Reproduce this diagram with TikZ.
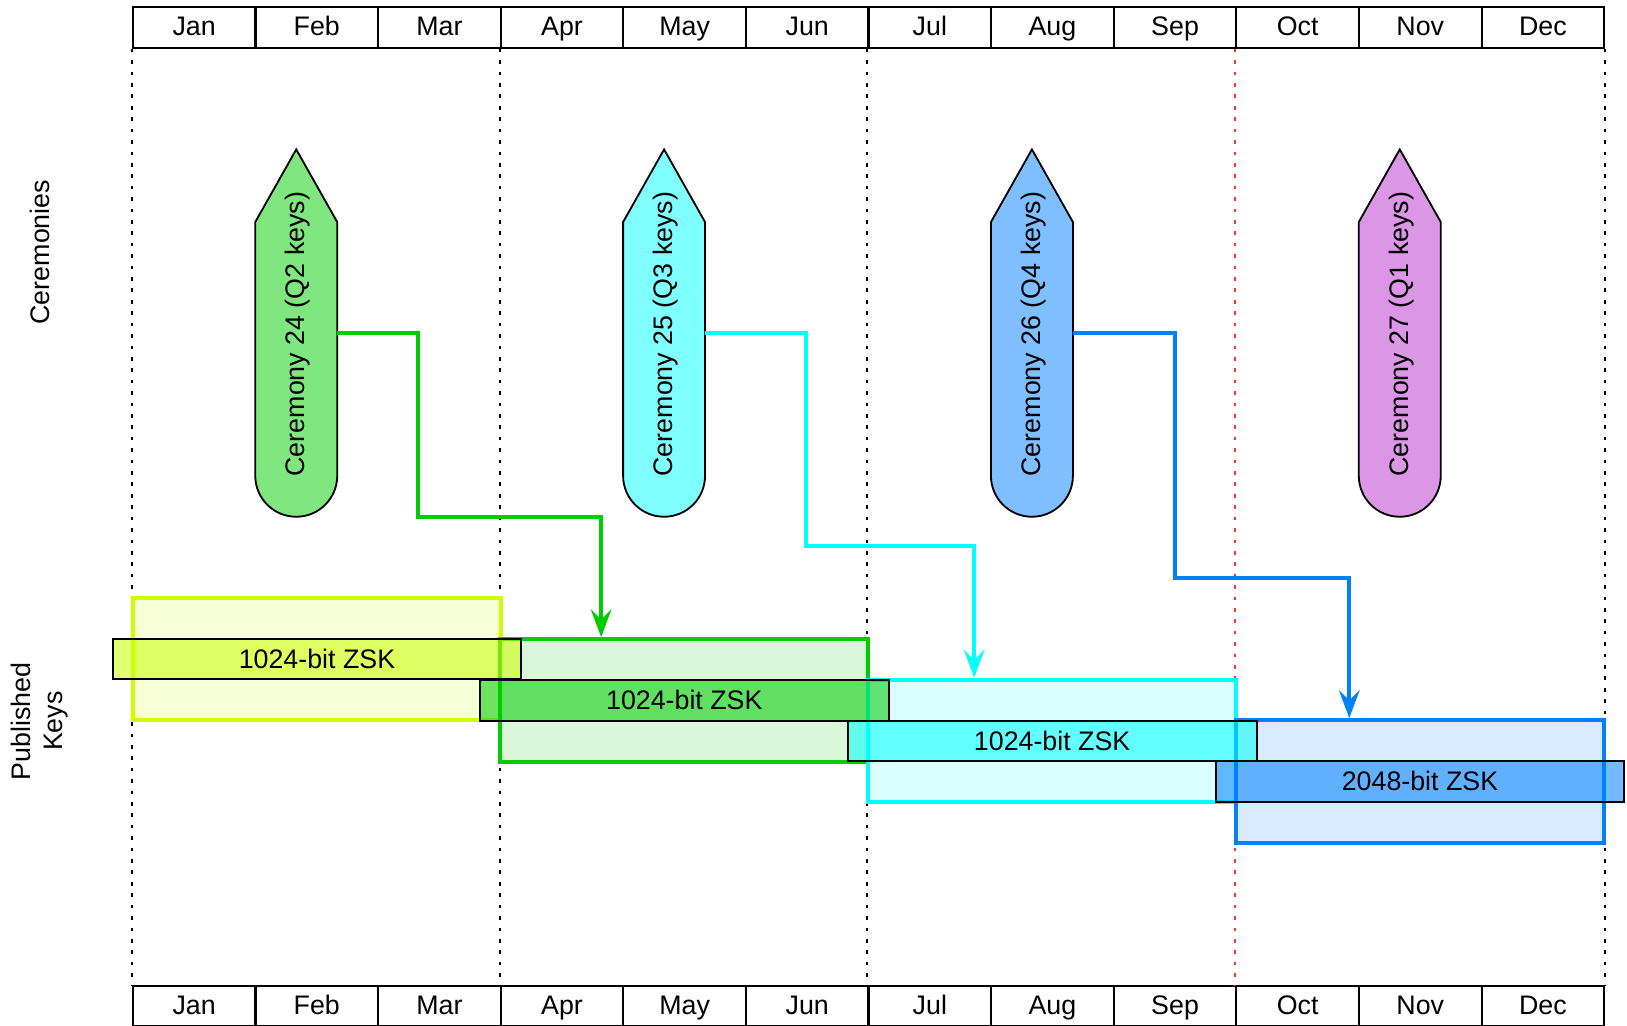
\documentclass[tikz,border=0pt]{standalone}
\usepackage{fontspec}
\setmainfont{Liberation Sans}
\usetikzlibrary{arrows.meta,positioning}
\definecolor{keyyellow}{RGB}{204,255,0}
\definecolor{keygreen}{RGB}{0,204,0}
\definecolor{keycyan}{RGB}{0,255,255}
\definecolor{keyblue}{RGB}{0,127,255}
\definecolor{cerpurple}{RGB}{220,150,230}
\tikzset{
    month/.style={draw,line width=1.2pt,minimum width=2.3633cm,minimum height=0.78cm,inner sep=0pt,
        text height=11pt,text depth=2.1pt},
    guide/.style={line width=1.1pt,dash pattern=on 0.07cm off 0.15cm},
    period/.style={draw=#1,fill=#1!15,line width=2.2pt,minimum width=7.09cm,minimum height=2.36cm,inner sep=0pt},
    zsk/.style={draw=black,fill=#1,fill opacity=0.55,text opacity=1,line width=1.1pt,minimum width=7.88cm,minimum height=0.78cm,inner sep=0pt},
    cershape/.style={draw=black,line width=1pt,line join=miter},
    link/.style={draw=#1,line width=2.1pt,-{Stealth[length=0.54cm,width=0.4cm,inset=0.2cm]}}
}
\begin{document}
\begin{tikzpicture}[x=0.02cm,y=-0.02cm,font=\fontsize{14.7pt}{17.6pt}\selectfont]
    \useasboundingbox (0,0) rectangle (1568,988);
    \clip (0,0) rectangle (1568,988);
    % month bars, top and bottom
    \foreach \m [count=\i from 0] in {Jan,Feb,Mar,Apr,May,Jun,Jul,Aug,Sep,Oct,Nov,Dec}{
        \node[month] (top\i) at ({128+118.17*(\i+0.5)},26.5) {\m};
        \node[month] (bot\i) at ({128+118.17*(\i+0.5)},969.5) {\m};
    }
    % quarter guides
    \foreach \i in {0,3,6}{
        \draw[guide] (top\i.south west) -- (bot\i.north west);
    }
    \draw[guide,red!80] (top9.south west) -- (bot9.north west);
    \draw[guide] (top11.south east) -- (bot11.north east);
    % row labels
    \node[rotate=90] (lblcer) at (38,243) {Ceremonies};
    \node[rotate=90,align=center] (lblkeys) at (38,695) {Published\\Keys};
    % ceremonies
    \foreach \cx/\n/\col/\q in {285.5/24/keygreen!50/Q2, 640/25/keycyan!50/Q3,
                                994.5/26/keyblue!50/Q4, 1349/27/cerpurple/Q1}{
        \draw[cershape,fill=\col] ({\cx-39.5},214) -- (\cx,144) -- ({\cx+39.5},214)
            -- ({\cx+39.5},458.5) arc[start angle=0,end angle=180,radius=39.5] -- cycle;
        \node[rotate=90] (cer\n) at ({\cx+1.5},322) {Ceremony \n\ (\q\ keys)};
        \coordinate (cer\n-r) at ({\cx+39.5},321);
    }
    % publication periods
    \node[period=keyyellow] (p1) at (305.5,635) {};
    \node[period=keygreen] (p2) at (659.5,675) {};
    \node[period=keycyan] (p3) at (1014,714) {};
    \node[period=keyblue] (p4) at (1368.5,753) {};
    % keys
    \node[zsk=keyyellow] (z1) at (p1) {1024-bit ZSK};
    \node[zsk=keygreen] (z2) at (p2) {1024-bit ZSK};
    \node[zsk=keycyan] (z3) at (p3) {1024-bit ZSK};
    \node[zsk=keyblue] (z4) at (p4) {2048-bit ZSK};
    % ceremony -> key
    \draw[link=keygreen] (cer24-r) -| (403,498) -| ([xshift=1.98cm]p2.north west);
    \draw[link=keycyan] (cer25-r) -| (777,526) -| ([xshift=2.08cm]p3.north west);
    \draw[link=keyblue] (cer26-r) -| (1132,557) -| ([xshift=2.22cm]p4.north west);
\end{tikzpicture}
\end{document}
